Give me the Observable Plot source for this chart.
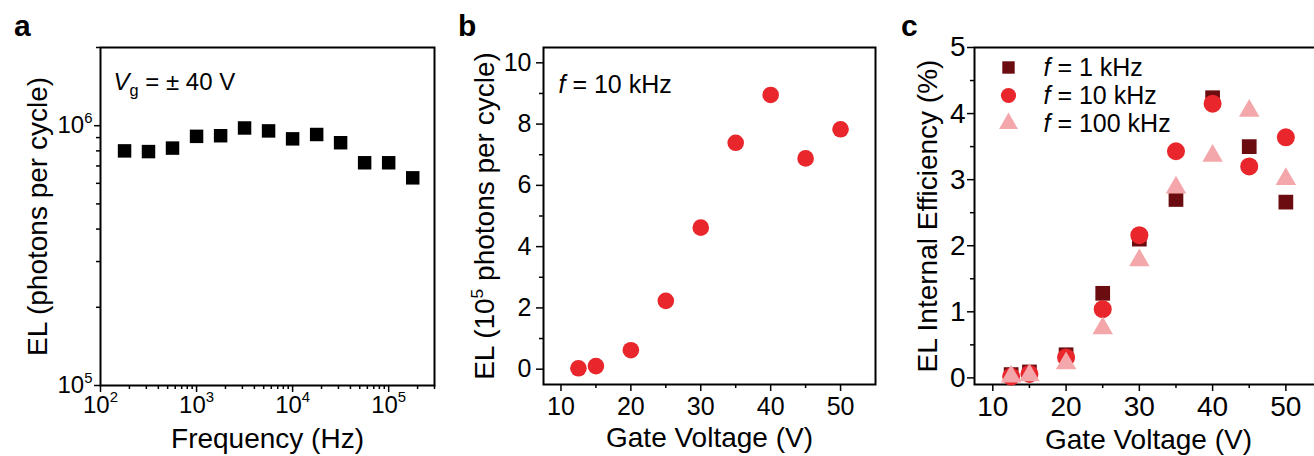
<!DOCTYPE html>
<html><head><meta charset="utf-8">
<script src="https://cdn.jsdelivr.net/npm/d3@7"></script>
<script src="https://cdn.jsdelivr.net/npm/@observablehq/plot@0.6"></script>
<style>
html,body{margin:0;padding:0;background:#fff;overflow:hidden;width:1314px;height:456px;position:relative;}
.panel{position:absolute;top:0;height:456px;}
.panel svg{max-width:none !important;display:block;}
.plab{position:absolute;font:bold 30px "Liberation Sans",Arial,sans-serif;line-height:30px;color:#000;}
</style></head><body>
<div class="plab" style="left:14px;top:11px">a</div>
<div class="plab" style="left:458px;top:11px">b</div>
<div class="plab" style="left:901px;top:11px">c</div>
<div id="pa" class="panel" style="left:0px;width:440px"></div>
<div id="pb" class="panel" style="left:440px;width:440px"></div>
<div id="pc" class="panel" style="left:880px;width:450px"></div>
<script>
// ---------- data ----------
// Panel a: EL vs frequency at Vg = ±40 V
const freqHz = [178, 316, 562, 1000, 1780, 3160, 5620, 10000, 17800, 31600, 56200, 100000, 178000];
const elPhotons = [8.0e5, 7.95e5, 8.2e5, 9.1e5, 9.15e5, 9.8e5, 9.55e5, 8.9e5, 9.25e5, 8.6e5, 7.2e5, 7.2e5, 6.3e5];
// Panel b: EL (1e5 photons per cycle) vs gate voltage at f = 10 kHz
const gateV = [12.5, 15, 20, 25, 30, 35, 40, 45, 50];
const el10kHz = [0.03, 0.1, 0.62, 2.23, 4.62, 7.39, 8.95, 6.88, 7.83];
// Panel c: EL internal efficiency (%) vs gate voltage
const seriesNames = ["*f* = 1 kHz", "*f* = 10 kHz", "*f* = 100 kHz"];
const eff1kHz = [0.05, 0.09, 0.35, 1.28, 2.1, 2.7, 4.24, 3.5, 2.66];
const eff10kHz = [0.02, 0.06, 0.31, 1.04, 2.16, 3.43, 4.15, 3.2, 3.64];
const eff100kHz = [0.02, 0.04, 0.22, 0.75, 1.78, 2.88, 3.36, 4.04, 3.01];
// tick labels
const logTicksX = [1e2, 1e3, 1e4, 1e5];
const logTicksY = [1e5, 1e6];
const voltTicks = [10, 20, 30, 40, 50];
const elTicks = [0, 2, 4, 6, 8, 10];
const effTicks = [0, 1, 2, 3, 4, 5];

const FONT = "'Liberation Sans', Arial, Helvetica, sans-serif";
const colors = ["#6b0d10", "#e8262b", "#f4a7aa"];
const symbols = ["square", "circle", "triangle"];
const intFmt = d3.format("d");

// minor ticks
const minorLogX = [];
for (let e = 2; e <= 5; e++) for (let m = 2; m <= 9; m++) { const v = m * 10 ** e; if (v <= 3e5) minorLogX.push(v); }
const minorLogY = [];
for (let m = 2; m <= 9; m++) minorLogY.push(m * 1e5);
minorLogY.push(2e6);
const supFmt = v => "10^" + Math.round(Math.log10(v));

// rich-text post-processing: *italic*, ^sup, _sub
function rich(svg) {
  svg.querySelectorAll("text").forEach(t => {
    if (t.querySelector("tspan")) return;
    const s = t.textContent;
    if (!/[\*\^_]/.test(s)) return;
    const fs = parseFloat(getComputedStyle(t).fontSize) || 24;
    const re = /\*([^*]+)\*|\^(\w+)|_(\w+)|([^*^_]+)/g;
    let html = "", m, pending = 0;
    while ((m = re.exec(s))) {
      let dy = pending; pending = 0;
      let attrs = "", txt;
      if (m[1]) { attrs = ' font-style="italic"'; txt = m[1]; }
      else if (m[2]) { const sh = -0.42 * fs; dy += sh; pending = -sh; attrs = ` font-size="${0.62 * fs}"`; txt = m[2]; }
      else if (m[3]) { const sh = 0.25 * fs; dy += sh; pending = -sh; attrs = ` font-size="${0.68 * fs}"`; txt = m[3]; }
      else txt = m[4];
      html += `<tspan${dy ? ` dy="${dy}"` : ""}${attrs}>${txt}</tspan>`;
    }
    t.innerHTML = html;
  });
}

const baseStyle = {fontFamily: FONT, color: "#000", background: "transparent", overflow: "visible", maxWidth: "none"};

// ---------- panel a ----------
const dataA = freqHz.map((f, i) => ({f, el: elPhotons[i]}));
const plotA = Plot.plot({
  width: 440, height: 456,
  marginLeft: 100, marginRight: 6, marginTop: 47, marginBottom: 71,
  x: {type: "log", domain: [100, 3e5]},
  y: {type: "log", domain: [1e5, 2e6]},
  style: baseStyle,
  marks: [
    Plot.axisX(minorLogX, {tickSize: 4, strokeWidth: 1.5, tickFormat: () => "", label: null}),
    Plot.axisX(logTicksX, {tickSize: 7, tickPadding: 3, strokeWidth: 1.5, tickFormat: supFmt, fontSize: 24, label: null}),
    Plot.axisY(minorLogY, {tickSize: 4, strokeWidth: 1.5, tickFormat: () => "", label: null}),
    Plot.axisY(logTicksY, {tickSize: 6, tickPadding: 2, strokeWidth: 1.5, tickFormat: supFmt, fontSize: 24, label: null}),
    Plot.frame({stroke: "#000", strokeWidth: 2}),
    Plot.dot(dataA, {x: "f", y: "el", symbol: "square", r: 7.6, fill: "#000"}),
    Plot.text(["*V*_g = ± 40 V"], {text: d => d, frameAnchor: "top-left", dx: 13, dy: 35, textAnchor: "start", lineAnchor: "middle", fontSize: 24}),
    Plot.text(["Frequency (Hz)"], {text: d => d, frameAnchor: "bottom", dy: 54, textAnchor: "middle", lineAnchor: "middle", fontSize: 28}),
    Plot.text(["EL (photons per cycle)"], {text: d => d, frameAnchor: "left", dx: -62, rotate: -90, textAnchor: "middle", lineAnchor: "middle", fontSize: 28})
  ]
});
document.getElementById("pa").append(plotA);
rich(plotA);

// ---------- panel b ----------
const dataB = gateV.map((v, i) => ({v, el: el10kHz[i]}));
const plotB = Plot.plot({
  width: 440, height: 456,
  marginLeft: 103, marginRight: 5, marginTop: 47, marginBottom: 72,
  x: {domain: [7.5, 55]},
  y: {domain: [-0.5, 10.5]},
  style: baseStyle,
  marks: [
    Plot.axisX([15, 25, 35, 45], {tickSize: 4, strokeWidth: 1.5, tickFormat: () => "", label: null}),
    Plot.axisX(voltTicks, {tickSize: 7, tickPadding: 6, strokeWidth: 1.5, tickFormat: intFmt, fontSize: 25, label: null}),
    Plot.axisY([1, 3, 5, 7, 9], {tickSize: 4, strokeWidth: 1.5, tickFormat: () => "", label: null}),
    Plot.axisY(elTicks, {tickSize: 7, tickPadding: 5, strokeWidth: 1.5, tickFormat: intFmt, fontSize: 25, label: null}),
    Plot.frame({stroke: "#000", strokeWidth: 2}),
    Plot.dot(dataB, {x: "v", y: "el", r: 8.3, fill: colors[1]}),
    Plot.text(["*f* = 10 kHz"], {text: d => d, frameAnchor: "top-left", dx: 15, dy: 37, textAnchor: "start", lineAnchor: "middle", fontSize: 25}),
    Plot.text(["Gate Voltage (V)"], {text: d => d, frameAnchor: "bottom", dy: 54, textAnchor: "middle", lineAnchor: "middle", fontSize: 28}),
    Plot.text(["EL (10^5 photons per cycle)"], {text: d => d, frameAnchor: "left", dx: -58, rotate: -90, textAnchor: "middle", lineAnchor: "middle", fontSize: 28})
  ]
});
document.getElementById("pb").append(plotB);
rich(plotB);

// ---------- panel c ----------
const seriesVals = [eff1kHz, eff10kHz, eff100kHz];
const symR = [8.3, 9, 7.6];
const plotC = Plot.plot({
  width: 450, height: 456,
  marginLeft: 94, marginRight: 8, marginTop: 47, marginBottom: 72,
  x: {domain: [7.5, 55]},
  y: {domain: [-0.1, 5]},
  style: baseStyle,
  marks: [
    Plot.axisX([15, 25, 35, 45], {tickSize: 4, strokeWidth: 1.5, tickFormat: () => "", label: null}),
    Plot.axisX(voltTicks, {tickSize: 7, tickPadding: 5, strokeWidth: 1.5, tickFormat: intFmt, fontSize: 28, label: null}),
    Plot.axisY([0.5, 1.5, 2.5, 3.5, 4.5], {tickSize: 4, strokeWidth: 1.5, tickFormat: () => "", label: null}),
    Plot.axisY(effTicks, {tickSize: 7, tickPadding: 2, strokeWidth: 1.5, tickFormat: intFmt, fontSize: 28, label: null}),
    Plot.frame({stroke: "#000", strokeWidth: 2}),
    ...seriesVals.map((vals, k) => Plot.dot(gateV.map((v, i) => ({v, e: vals[i]})),
      {x: "v", y: "e", symbol: symbols[k], r: symR[k], fill: colors[k]})),
    ...seriesNames.map((name, k) => Plot.dot([name], {frameAnchor: "top-left", dx: 34, dy: 20 + 28 * k, symbol: symbols[k], r: k === 1 ? 7.6 : 7, fill: colors[k]})),
    ...seriesNames.map((name, k) => Plot.text([name], {text: d => d, frameAnchor: "top-left", dx: 69, dy: 20 + 28 * k, textAnchor: "start", lineAnchor: "middle", fontSize: 25})),
    Plot.text(["Gate Voltage (V)"], {text: d => d, frameAnchor: "bottom", dy: 56, textAnchor: "middle", lineAnchor: "middle", fontSize: 28}),
    Plot.text(["EL Internal Efficiency (%)"], {text: d => d, frameAnchor: "left", dx: -46, rotate: -90, textAnchor: "middle", lineAnchor: "middle", fontSize: 28})
  ]
});
document.getElementById("pc").append(plotC);
rich(plotC);
</script>
</body></html>
